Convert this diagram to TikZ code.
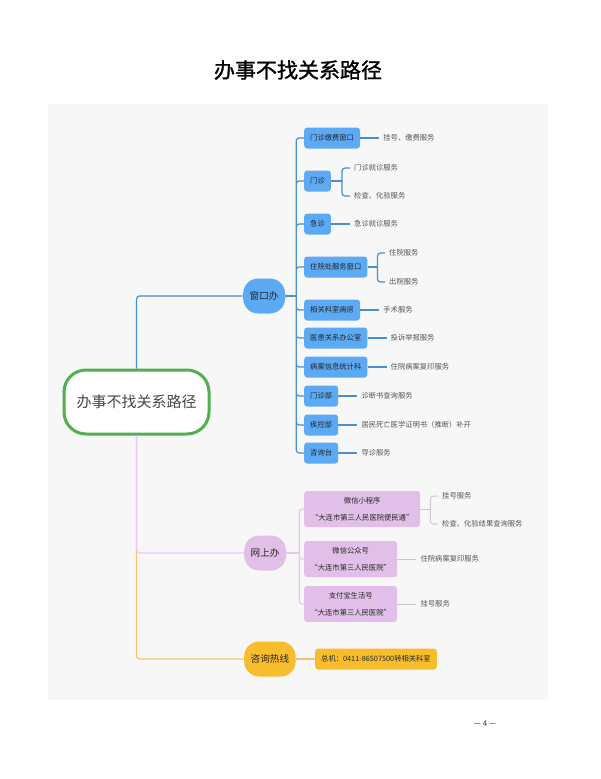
\documentclass[tikz,border=0pt]{standalone}
\usepackage{fontspec}
\setmainfont{Noto Sans CJK SC}
\newfontfamily\titlefont[FakeBold=1.3]{Noto Sans CJK SC}
\usepackage{tikz}
\usetikzlibrary{positioning}
\definecolor{winblue}{HTML}{5CA9F4}
\definecolor{winline}{HTML}{4A8FD0}
\definecolor{rootgreen}{HTML}{52AE4F}
\definecolor{weblilac}{HTML}{E2BFE8}
\definecolor{webline}{HTML}{E8C9EE}
\definecolor{hotorange}{HTML}{F8BD2C}
\definecolor{hotline}{HTML}{F6C46E}
\definecolor{leafgray}{HTML}{555555}
\definecolor{leafline}{HTML}{C8C8C8}
\definecolor{boardgray}{HTML}{F7F7F7}
\tikzset{
  % node options
  root/.style={rectangle,rounded corners=22pt,draw=rootgreen,line width=3pt,fill=white,
    minimum width=145pt,minimum height=64pt,font=\fontsize{15}{15}\selectfont,text=black!72},
  branch/.style={rectangle,rounded corners=15pt,minimum height=35pt,inner xsep=6.5pt,
    anchor=west,font=\fontsize{9.6}{10}\selectfont,text=black!85},
  winBranch/.style={branch,fill=winblue},
  webBranch/.style={branch,fill=weblilac},
  hotBranch/.style={branch,fill=hotorange},
  topic/.style={rectangle,rounded corners=3pt,minimum height=21pt,inner xsep=6pt,
    anchor=west,font=\fontsize{7.3}{8}\selectfont,text=black!85},
  winTopic/.style={topic,fill=winblue},
  webTopic/.style={topic,fill=weblilac,align=center,minimum height=36pt,
    font=\fontsize{7.3}{16.5}\selectfont},
  hotTopic/.style={topic,fill=hotorange},
  leaf/.style={inner xsep=4pt,anchor=west,font=\fontsize{7.3}{8}\selectfont,text=leafgray},
  % path options
  winEdge/.style={draw=winline,line width=1.2pt,rounded corners=3pt},
  webEdge/.style={draw=webline,line width=1.2pt,rounded corners=3pt},
  hotEdge/.style={draw=hotline,line width=1.2pt,rounded corners=3pt},
  leafEdge/.style={draw=leafline,line width=1pt,rounded corners=3pt},
  node distance=19pt,
}

\begin{document}
\begin{tikzpicture}[x=1pt,y=-1pt]
    \useasboundingbox (0,0) rectangle (601,779);
    \fill[boardgray] (48,104) rectangle (548,700);
    \node[font=\titlefont\fontsize{21}{21}\selectfont] (title) at (298,70) {办事不找关系路径};
    \node[font=\fontsize{8}{8}\selectfont,text=black!80] (page) at (485,724) {— 4 —};

    \node[root] (root) at (136.5,402) {办事不找关系路径};
    \node[winBranch] (win) at (243,296) {窗口办};
    \node[webBranch] (web) at (244,553) {网上办};
    \node[hotBranch] (hot) at (244,659) {咨询热线};

    % window desks
    \node[winTopic] (c1) at (304,138) {门诊缴费窗口};
    \node[winTopic] (c2) at (304,181) {门诊};
    \node[winTopic] (c3) at (304,224) {急诊};
    \node[winTopic] (c4) at (304,267) {住院处服务窗口};
    \node[winTopic] (c5) at (304,310) {相关科室病房};
    \node[winTopic] (c6) at (304,338) {医患关系办公室};
    \node[winTopic] (c7) at (304,367) {病案信息统计科};
    \node[winTopic] (c8) at (304,396) {门诊部};
    \node[winTopic] (c9) at (304,425) {疾控部};
    \node[winTopic] (c10) at (304,453) {咨询台};

    \node[leaf,right=of c1] (c1a) {挂号、缴费服务};
    \node[leaf] (c2a) at (350,168) {门诊就诊服务};
    \node[leaf] (c2b) at (350,196) {检查、化验服务};
    \node[leaf,right=of c3] (c3a) {急诊就诊服务};
    \node[leaf] (c4a) at (385,253) {住院服务};
    \node[leaf] (c4b) at (385,282) {出院服务};
    \node[leaf,right=of c5] (c5a) {手术服务};
    \node[leaf,right=of c6] (c6a) {投诉举报服务};
    \node[leaf,right=of c7] (c7a) {住院病案复印服务};
    \node[leaf,right=of c8] (c8a) {诊断书查询服务};
    \node[leaf,right=of c9] (c9a) {居民死亡医学证明书（推断）补开};
    \node[leaf,right=of c10] (c10a) {导诊服务};

    % online
    \node[webTopic,minimum width=116pt] (w1) at (304,509) {微信小程序\\“大连市第三人民医院便民通”};
    \node[webTopic,minimum width=93pt] (w2) at (304,559) {微信公众号\\“大连市第三人民医院”};
    \node[webTopic,minimum width=93pt] (w3) at (304,604) {支付宝生活号\\“大连市第三人民医院”};
    \node[leaf] (w1a) at (438,496) {挂号服务};
    \node[leaf] (w1b) at (438,524) {检查、化验结果查询服务};
    \node[leaf,right=of w2] (w2a) {住院病案复印服务};
    \node[leaf,right=of w3] (w3a) {挂号服务};

    % hotline
    \node[hotTopic] (h1) at (315,659) {总机：0411-86507500转相关科室};

    \draw[hotEdge] (root.south) |- (hot.west);
    \draw[webEdge] (root.south) |- (web.west);
    \draw[winEdge] (root.north) |- (win.west);

    \draw[winEdge] (win.east) -- ++(11,0) coordinate (winbus);
    \draw[winEdge] (winbus) |- (c1.west) (winbus) |- (c2.west) (winbus) |- (c3.west)
      (winbus) |- (c4.west) (winbus) |- (c5.west) (winbus) |- (c6.west)
      (winbus) |- (c7.west) (winbus) |- (c8.west) (winbus) |- (c9.west) (winbus) |- (c10.west);
    \draw[winEdge] (c1.east) -- (c1a.west);
    \draw[winEdge] (c2.east) -- ++(11,0) coordinate (c2fork);
    \draw[winEdge] (c2fork) |- (c2a.west) (c2fork) |- (c2b.west);
    \draw[winEdge] (c3.east) -- (c3a.west);
    \draw[winEdge] (c4.east) -- ++(10,0) coordinate (c4fork);
    \draw[winEdge] (c4fork) |- (c4a.west) (c4fork) |- (c4b.west);
    \draw[winEdge] (c5.east) -- (c5a.west);
    \draw[winEdge] (c6.east) -- (c6a.west);
    \draw[winEdge] (c7.east) -- (c7a.west);
    \draw[winEdge] (c8.east) -- (c8a.west);
    \draw[winEdge] (c9.east) -- (c9a.west);
    \draw[winEdge] (c10.east) -- (c10a.west);

    \draw[webEdge] (web.east) -- ++(13,0) coordinate (webbus);
    \draw[webEdge] (webbus) |- (w1.west) (webbus) |- (w2.west) (webbus) |- (w3.west);
    \draw[leafEdge] (w1.east) -- ++(10,0) coordinate (w1fork);
    \draw[leafEdge] (w1fork) |- (w1a.west) (w1fork) |- (w1b.west);
    \draw[leafEdge] (w2.east) -- (w2a.west);
    \draw[leafEdge] (w3.east) -- (w3a.west);

    \draw[hotEdge] (hot.east) -- (h1.west);
\end{tikzpicture}
\end{document}
